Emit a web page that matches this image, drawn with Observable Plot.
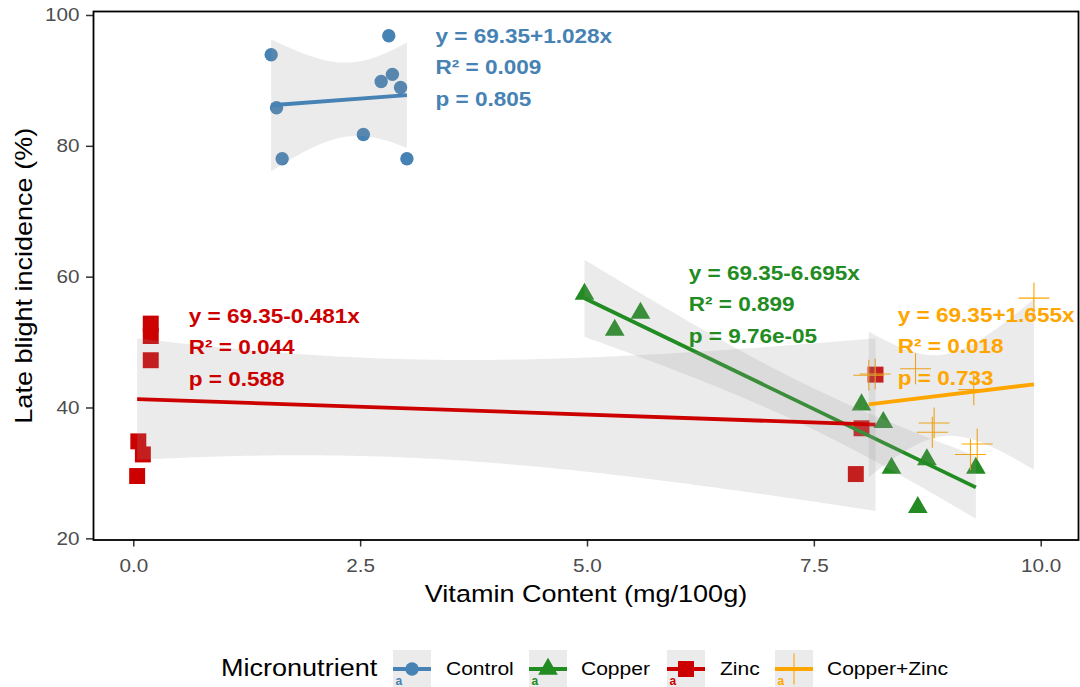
<!DOCTYPE html>
<html>
<head>
<meta charset="utf-8">
<script src="https://cdn.jsdelivr.net/npm/d3@7"></script>
<script src="https://cdn.jsdelivr.net/npm/@observablehq/plot@0.6"></script>
<style>
  html, body { margin: 0; padding: 0; background: #fff; }
  body { font-family: "Liberation Sans", Arial, sans-serif; }
  #wrap { position: relative; width: 1080px; height: 687px; overflow: hidden; }
  #legend { position: relative; width: 1080px; height: 67px; }
  .lt { position: absolute; white-space: nowrap; line-height: 1; color: #000;
        transform-origin: left center; }
  .lk { position: absolute; }
</style>
</head>
<body>
<div id="wrap">
  <div id="chart"></div>
  <div id="legend"></div>
</div>
<script>
// ---------------- data ----------------
const groups = ["Control", "Copper", "Zinc", "Copper+Zinc"];
const groupColors = ["#4682B4", "#228B22", "#CD0000", "#FFA500"];
const groupSymbols = ["circle", "triangle", "square", "plus"];

const controlX = [1.514, 1.573, 1.635, 2.53, 2.726, 2.81, 2.85, 2.94, 3.01];
const controlY = [94.0, 85.9, 78.1, 81.8, 89.9, 96.9, 91.0, 89.0, 78.1];

const copperX = [4.967, 5.30, 5.584, 8.02, 8.26, 8.35, 8.64, 8.74, 9.28];
const copperY = [57.4, 51.9, 54.5, 40.5, 37.8, 30.8, 24.8, 32.1, 30.8];

const zincX = [0.187, 0.187, 0.187, 0.05, 0.10, 0.037, 8.174, 8.02, 7.957];
const zincY = [52.9, 51.0, 47.3, 34.9, 32.9, 29.6, 45.1, 36.9, 29.9];

const czX = [8.10, 8.17, 8.615, 8.82, 8.80, 9.257, 9.295, 9.22, 9.92];
const czY = [45.0, 45.2, 46.0, 37.7, 36.3, 42.8, 34.5, 32.9, 56.8];

const labelX = [3.325, 6.116, 0.606, 8.42];
const labelY = [97.97, 61.7, 55.15, 55.3];
const labelText = [
  "y = 69.35+1.028x\nR² = 0.009\np = 0.805",
  "y = 69.35-6.695x\nR² = 0.899\np = 9.76e-05",
  "y = 69.35-0.481x\nR² = 0.044\np = 0.588",
  "y = 69.35+1.655x\nR² = 0.018\np = 0.733"
];

const xTicks = [0, 2.5, 5, 7.5, 10];
const yTicks = [20, 40, 60, 80, 100];
const xTitle = "Vitamin Content (mg/100g)";
const yTitle = "Late blight incidence (%)";
const legendTitle = "Micronutrient";

// ---------------- build ----------------
const seriesX = [controlX, copperX, zincX, czX];
const seriesY = [controlY, copperY, zincY, czY];
const rows = groups.map((g, i) => seriesX[i].map((x, j) => ({group: g, x, y: seriesY[i][j]})));
const labels = groups.map((g, i) => ({x: labelX[i], y: labelY[i], text: labelText[i], color: groupColors[i]}));

const symbolR = {circle: 6.7, triangle: 7.3, square: 9.0, plus: 10};
const FONT = '"Liberation Sans", Arial, sans-serif';
const STRETCH = 1.15;

const dotMarks = rows.map((d, i) => {
  const s = groupSymbols[i];
  return s === "plus"
    ? Plot.dot(d, {x: "x", y: "y", symbol: s, r: symbolR[s], stroke: groupColors[i], fill: "none", strokeWidth: 1.1})
    : Plot.dot(d, {x: "x", y: "y", symbol: s, r: symbolR[s], fill: groupColors[i], stroke: "none"});
});

const regMarks = rows.map((d, i) =>
  Plot.linearRegressionY(d, {
    x: "x", y: "y", ci: 0.95,
    stroke: groupColors[i], strokeWidth: 3.8, strokeLinecap: "butt",
    fill: "#999999", fillOpacity: 0.2
  })
);

const chart = Plot.plot({
  width: 1080,
  height: 620,
  marginLeft: 93,
  marginRight: 2,
  marginTop: 11,
  marginBottom: 80.5,
  style: {fontFamily: FONT, background: "#fff"},
  x: {domain: [-0.444, 10.411]},
  y: {domain: [19.82, 100.61]},
  marks: [
    ...dotMarks,
    ...regMarks,
    Plot.text(labels, {
      x: "x", y: "y", text: "text", fill: "color",
      textAnchor: "start", lineAnchor: "top", lineHeight: 1.607, dy: -8.5,
      fontSize: 19.6, fontWeight: "bold"
    }),
    Plot.axisX({ticks: xTicks, tickFormat: d => d.toFixed(1), tickSize: 7, tickPadding: 12,
      fontSize: 18, label: null, stroke: "#333", strokeWidth: 1.5, fill: "#4D4D4D"}),
    Plot.axisY({ticks: yTicks, tickSize: 7, tickPadding: 7,
      fontSize: 18, label: null, stroke: "#333", strokeWidth: 1.5, fill: "#4D4D4D"}),
    Plot.text([xTitle], {text: d => d, frameAnchor: "bottom", textAnchor: "middle", lineAnchor: "middle",
      dy: 54, fontSize: 23.5, fill: "#000"}),
    Plot.text([yTitle], {text: d => d, frameAnchor: "left", textAnchor: "middle", lineAnchor: "middle",
      dx: -69, rotate: -90, fontSize: 23.5, fill: "#000"}),
    Plot.frame({stroke: "#000", strokeWidth: 1.8})
  ]
});

document.getElementById("chart").appendChild(chart);

// widen text glyphs along the text direction, about each text's anchor point
chart.querySelectorAll("text").forEach(t => {
  const tr = t.getAttribute("transform") || "";
  let x = parseFloat(t.getAttribute("x"));
  if (!isFinite(x)) x = 0;
  t.setAttribute("transform", `${tr} translate(${x},0) scale(${STRETCH},1) translate(${-x},0)`.trim());
});

// ---------------- legend ----------------
const legend = d3.select("#legend");
const CY = 49;           // vertical centre inside legend block
const KEY = 38;
const keyLeft = [393, 529, 667, 774.5];
const labelLeft = [446, 580.5, 719.5, 827];

legend.append("div").attr("class", "lt")
  .style("left", "220.5px").style("top", CY + "px")
  .style("font-size", "23.5px")
  .style("transform", `translateY(-50%) scaleX(${STRETCH})`)
  .text(legendTitle);

groups.forEach((g, i) => {
  const svg = legend.append("svg").attr("class", "lk")
    .attr("width", KEY).attr("height", KEY)
    .style("left", keyLeft[i] + "px").style("top", (CY - KEY / 2) + "px");
  svg.append("rect").attr("width", KEY).attr("height", KEY).attr("fill", "#EBEBEB");
  svg.append("line").attr("x1", 0).attr("x2", KEY).attr("y1", KEY / 2).attr("y2", KEY / 2)
    .attr("stroke", groupColors[i]).attr("stroke-width", 3.8);
  const s = groupSymbols[i];
  const symType = {circle: d3.symbolCircle, triangle: d3.symbolTriangle, square: d3.symbolSquare, plus: d3.symbolPlus}[s];
  const path = svg.append("path")
    .attr("transform", `translate(${KEY / 2},${KEY / 2})`)
    .attr("d", d3.symbol(symType, Math.PI * symbolR[s] * symbolR[s])());
  if (s === "plus") path.attr("fill", "none").attr("stroke", groupColors[i]).attr("stroke-width", 1.1);
  else path.attr("fill", groupColors[i]);
  svg.append("text").attr("x", 2.5).attr("y", 35).attr("font-size", 12).attr("font-weight", "bold")
    .attr("font-family", FONT).attr("fill", groupColors[i]).text("a");

  legend.append("div").attr("class", "lt")
    .style("left", labelLeft[i] + "px").style("top", CY + "px")
    .style("font-size", "18.3px")
    .style("transform", `translateY(-50%) scaleX(${STRETCH})`)
    .text(g);
});
</script>
</body>
</html>
